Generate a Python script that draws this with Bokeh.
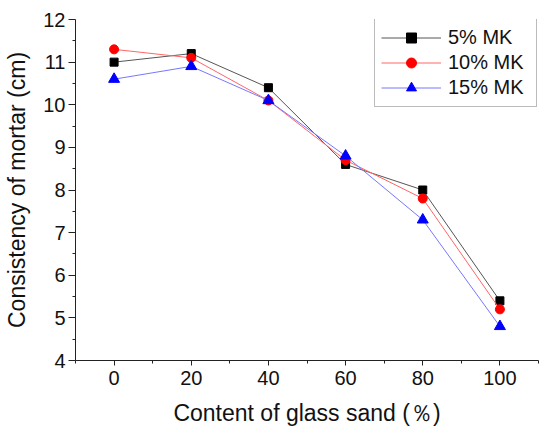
from bokeh.plotting import figure
from bokeh.models import Range1d, FixedTicker
from bokeh.embed import file_html
from bokeh.resources import INLINE

x_vals = [0, 20, 40, 60, 80, 100]
mk5 = [11.0, 11.2, 10.4, 8.6, 8.0, 5.4]
mk10 = [11.3, 11.1, 10.1, 8.7, 7.8, 5.2]
mk15 = [10.6, 10.9, 10.1, 8.8, 7.3, 4.8]
labels = ["5% MK", "10% MK", "15% MK"]
x_major = [0, 20, 40, 60, 80, 100]
x_minor = [-10, 10, 30, 50, 70, 90, 110]
y_major = [4, 5, 6, 7, 8, 9, 10, 11, 12]
y_minor = [4.5, 5.5, 6.5, 7.5, 8.5, 9.5, 10.5, 11.5]

FONT = "Liberation Sans"

p = figure(width=542, height=434, output_backend="svg", toolbar_location=None,
           x_range=Range1d(-10, 110), y_range=Range1d(4, 12),
           min_border_left=75, min_border_right=4, min_border_top=19, min_border_bottom=74)
p.outline_line_color = None
p.xgrid.visible = False
p.ygrid.visible = False
p.background_fill_color = "white"
p.border_fill_color = "white"

series = [
    (mk5, "#000000", "#555555", "square", 8),
    (mk10, "#ff0000", "#ff6666", "circle", 9),
    (mk15, "#0000ff", "#7777ff", "triangle", 11),
]
for (vals, mcol, lcol, marker, size), lab in zip(series, labels):
    p.line(x_vals, vals, line_color=lcol, line_width=1, legend_label=lab)
    p.scatter(x_vals, vals, marker=marker, size=size, fill_color=mcol, line_color=mcol,
              legend_label=lab)

p.xaxis.ticker = FixedTicker(ticks=x_major, minor_ticks=x_minor)
p.yaxis.ticker = FixedTicker(ticks=y_major, minor_ticks=y_minor)

for ax in (p.xaxis[0], p.yaxis[0]):
    ax.axis_line_color = "#222222"
    ax.major_tick_line_color = "#222222"
    ax.minor_tick_line_color = "#222222"
    ax.major_tick_in = 0
    ax.minor_tick_in = 0
    ax.major_label_text_font = FONT
    ax.major_label_text_font_size = "20px"
    ax.major_label_text_color = "#111111"
    ax.axis_label_text_font = FONT
    ax.axis_label_text_font_size = "23px"
    ax.axis_label_text_font_style = "normal"
    ax.axis_label_text_color = "#111111"

p.xaxis.major_tick_out = 5
p.xaxis.minor_tick_out = 3
p.yaxis.major_tick_out = 7
p.yaxis.minor_tick_out = 3
p.xaxis.major_label_standoff = 5
p.yaxis.major_label_standoff = 3
p.xaxis.axis_label = "Content of glass sand (％)"
p.yaxis.axis_label = "Consistency of mortar (cm)"
p.xaxis.axis_label_standoff = 12
p.yaxis.axis_label_standoff = 10

leg = p.legend[0]
leg.location = (299, 253)
leg.border_line_color = "#777777"
leg.border_line_width = 1
leg.background_fill_color = "white"
leg.label_text_font = FONT
leg.label_text_font_size = "20px"
leg.label_text_color = "#111111"
leg.glyph_width = 60
leg.glyph_height = 25
leg.label_height = 25
leg.label_width = 82
leg.label_standoff = 7
leg.spacing = 0
leg.padding = 6
leg.margin = 0

open("out.html", "w").write(file_html(p, INLINE))
